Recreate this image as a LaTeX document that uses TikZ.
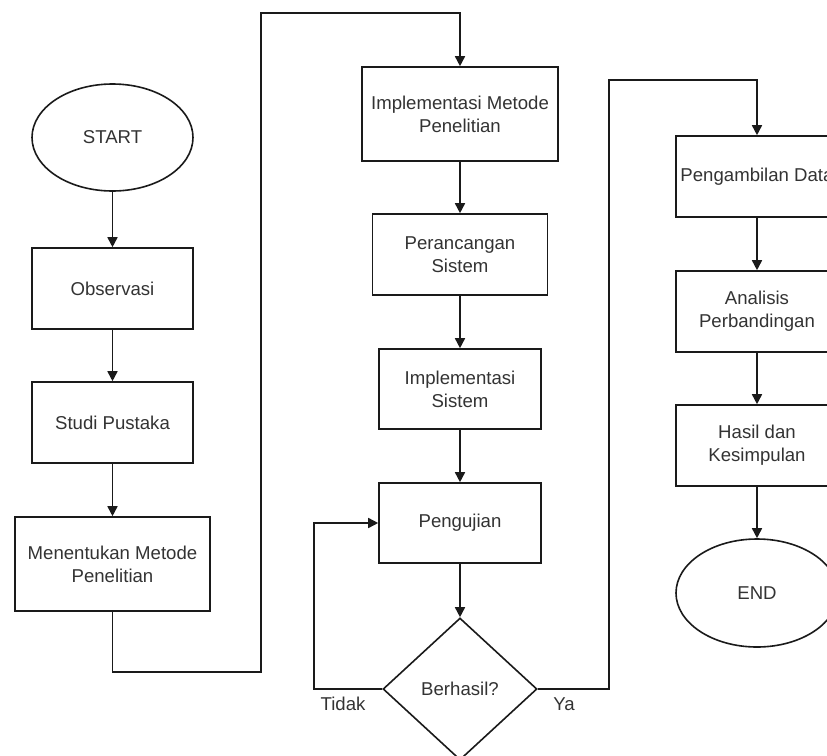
\documentclass[tikz,border=0pt]{standalone}
\usepackage{fontspec}
\setmainfont{Liberation Sans}
\usetikzlibrary{arrows.meta,shapes.geometric}
\definecolor{txt}{HTML}{333333}
\definecolor{ln}{HTML}{1A1A1A}
\tikzset{
  every node/.style={font=\fontsize{18.6}{23}\selectfont, text=txt, align=center},
  box/.style={draw=ln, line width=1.6pt, rectangle, inner sep=0pt, fill=white},
  term/.style={draw=ln, line width=1.6pt, ellipse, inner sep=0pt, fill=white},
  decis/.style={draw=ln, line width=1.6pt, diamond, inner sep=0pt, fill=white, minimum width=154pt, minimum height=142pt},
  arr/.style={draw=ln, line width=1.6pt, -{Triangle[width=10pt,length=10pt]}},
  lab/.style={inner sep=0pt}
}
\begin{document}
\begin{tikzpicture}[x=1pt,y=-1pt]
\useasboundingbox (0,0) rectangle (827,755);
\clip (0,0) rectangle (827,755);
% left column
\node[term, minimum width=161pt, minimum height=107pt] (start) at (112.5,137.5) {START};
\node[box, minimum width=161pt, minimum height=81pt] (obs) at (112.5,288.5) {Observasi};
\node[box, minimum width=161pt, minimum height=81pt] (studi) at (112.5,422.5) {Studi Pustaka};
\node[box, minimum width=195pt, minimum height=94pt] (ment) at (112.5,564) {Menentukan Metode\\Penelitian};
% middle column
\node[box, minimum width=196pt, minimum height=94pt] (impl) at (460,114) {Implementasi Metode\\Penelitian};
\node[box, minimum width=175pt, minimum height=81pt] (peran) at (460,254.5) {Perancangan\\Sistem};
\node[box, minimum width=162pt, minimum height=80pt] (implsis) at (460,389) {Implementasi\\Sistem};
\node[box, minimum width=162pt, minimum height=80pt] (peng) at (460,523) {Pengujian};
\node[decis] (dec) at (460,689) {Berhasil?};
% right column
\node[box, minimum width=162pt, minimum height=81pt] (data) at (757,176.5) {Pengambilan Data};
\node[box, minimum width=162pt, minimum height=81pt] (anal) at (757,311.5) {Analisis\\Perbandingan};
\node[box, minimum width=162pt, minimum height=81pt] (hasil) at (757,445.5) {Hasil dan\\Kesimpulan};
\node[term, minimum width=162pt, minimum height=108pt] (end) at (757,593) {END};
% labels
\node[lab] (tidak) at (343,704) {Tidak};
\node[lab] (ya) at (564,704) {Ya};
% bend points
\coordinate (k1) at (261,672);
\coordinate (k2) at (261,13);
\coordinate (k3) at (314,689);
\coordinate (k4) at (609,80);
% connectors
\draw[arr] (start) -- (obs);
\draw[arr] (obs) -- (studi);
\draw[arr] (studi) -- (ment);
\draw[arr] (ment.south) |- (k1) -- (k2) -| (impl.north);
\draw[arr] (impl) -- (peran);
\draw[arr] (peran) -- (implsis);
\draw[arr] (implsis) -- (peng);
\draw[arr] (peng) -- (dec);
\draw[arr] (dec.west) -- (k3) |- (peng.west);
\draw[arr] (dec.east) -| (k4) -| (data.north);
\draw[arr] (data) -- (anal);
\draw[arr] (anal) -- (hasil);
\draw[arr] (hasil) -- (end);
\end{tikzpicture}
\end{document}
